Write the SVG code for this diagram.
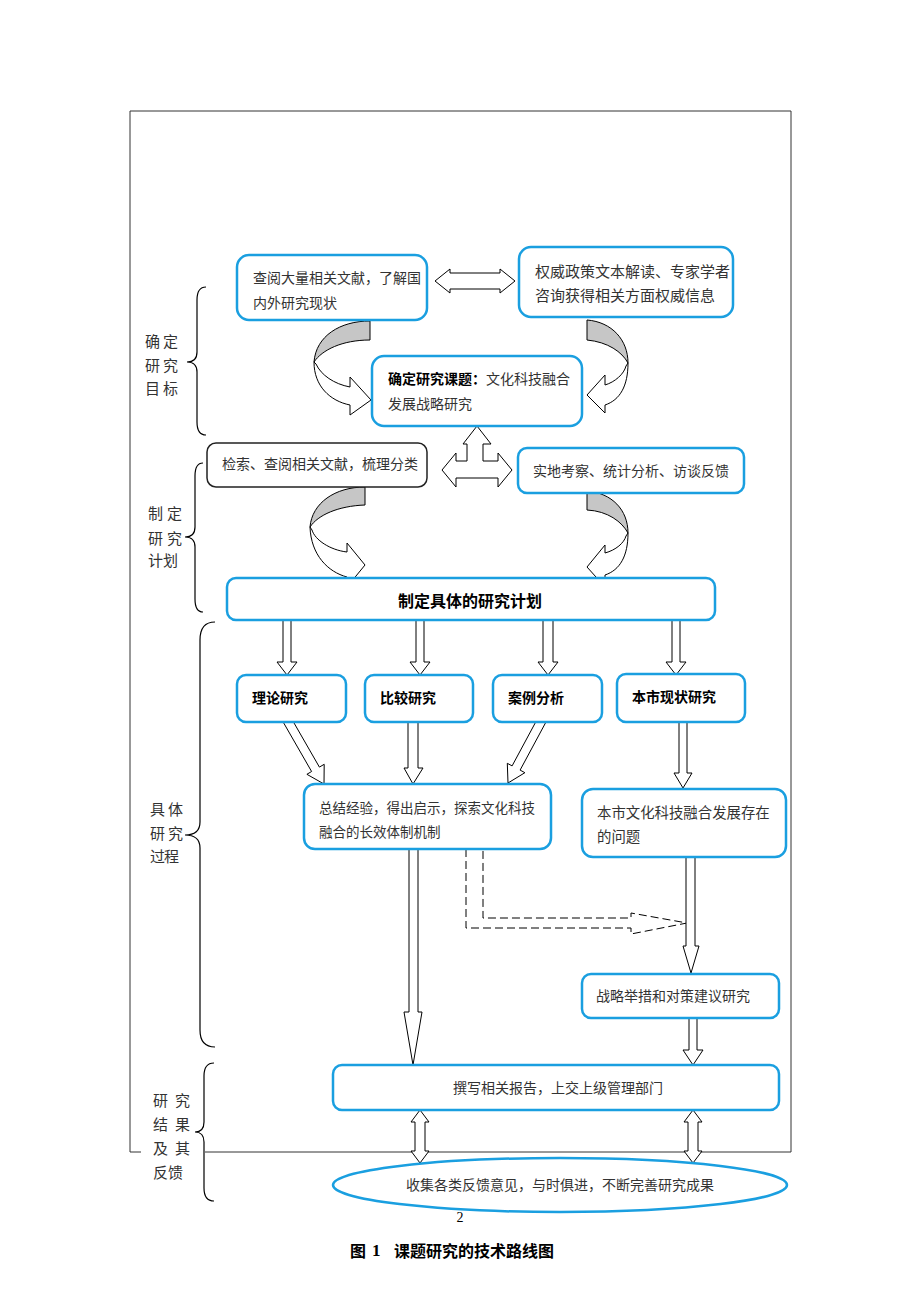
<svg xmlns="http://www.w3.org/2000/svg" width="920" height="1302" viewBox="0 0 920 1302">
<style>
.t{font-family:"Noto Sans CJK SC","Noto Sans",sans-serif;fill:#333;dominant-baseline:central}
.b{font-weight:bold;fill:#000}
.box{fill:#fff;stroke:#1a9fe0;stroke-width:2.5}
.ar{fill:#fff;stroke:#000;stroke-width:1}
.gr{fill:#c6c6c6;stroke:#000;stroke-width:1}
.br{fill:none;stroke:#000;stroke-width:1.2}
.dash{fill:none;stroke:#000;stroke-width:1;stroke-dasharray:8,4}
</style>
<rect width="920" height="1302" fill="#fff"/>
<g id="frame" fill="none" stroke="#333" stroke-width="1">
<path d="M141,1152 L130,1152 L130,111 L791,111 L791,1152 L205,1152"/>
</g>
<g id="brackets">
<path class="br" d="M206,287 Q197,287 197,300 L197,352 Q197,362 187,362 Q197,362 197,372 L197,422 Q197,435 206,435"/>
<path class="br" d="M203,463 Q195,463 195,476 L195,527 Q195,537 185,537 Q195,537 195,547 L195,599 Q195,612 203,612"/>
<path class="br" d="M215,622 Q200,622 200,640 L200,822 Q200,835 185,835 Q200,835 200,848 L200,1030 Q200,1047 215,1047"/>
<path class="br" d="M214,1063 Q204,1063 204,1076 L204,1122 Q204,1132 195,1132 Q204,1132 204,1142 L204,1188 Q204,1201 214,1201"/>
<text class="t" font-size="15" x="145 157 163" y="340">确 定</text>
<text class="t" font-size="15" x="145 157 163" y="364">研 究</text>
<text class="t" font-size="15" x="145 157 163" y="387">目 标</text>
<text class="t" font-size="15" x="148 160 167" y="512">制 定</text>
<text class="t" font-size="15" x="148 160 167" y="537">研 究</text>
<text class="t" font-size="15" x="148 163" y="559">计划</text>
<text class="t" font-size="15" x="150 162 168" y="808">具 体</text>
<text class="t" font-size="15" x="150 162 168" y="832">研 究</text>
<text class="t" font-size="15" x="150 164" y="855">过程</text>
<text class="t" font-size="15" x="153 165 175" y="1099">研 究</text>
<text class="t" font-size="15" x="153 165 175" y="1123">结 果</text>
<text class="t" font-size="15" x="153 165 175" y="1147">及 其</text>
<text class="t" font-size="15" x="153 168" y="1171">反馈</text>
</g>
<g id="connectors">
<polygon class="ar" points="435,281 450,269 450,273 500,273 500,269 515,281 500,293 500,289 450,289 450,293"/>
<path class="gr" d="M370,321 C340,321 316,336 314,362 C322,350 342,340 370,340 Z"/>
<path class="ar" d="M314,362 C314,386 330,401 350,405 L350,415 L371,400 L350,377 L350,387 C334,384 321,375 316,364 Z"/>
<path class="gr" d="M587,320 C612,322 628,340 628,363 C622,352 608,342 587,340 Z"/>
<path class="ar" d="M628,363 C628,386 620,400 605,405 L605,413 L587,395 L605,375 L605,385 C615,382 624,374 626,366 Z"/>
<polygon class="ar" points="442,470 456,453 456,461 467,461 467,444 463,444 477,426 491,444 483,444 483,461 498,461 498,453 512,470 498,487 498,478 456,478 456,487"/>
<path class="gr" d="M365,487 C335,487 312,503 310,527 C318,515 338,506 365,505 Z"/>
<path class="ar" d="M310,527 C311,555 328,572 347,577 L347,587 L365,565 L347,543 L347,552 C330,550 315,540 312,530 Z"/>
<path class="gr" d="M587,491 C612,493 628,510 628,533 C622,522 608,511 587,510 Z"/>
<path class="ar" d="M628,533 C628,556 620,570 605,575 L605,587 L587,567 L605,545 L605,553 C616,550 624,543 626,536 Z"/>
<polygon class="ar" points="283,620 291,620 291,662 297,662 287,675 277,662 283,662"/>
<polygon class="ar" points="416,620 424,620 424,662 430,662 420,675 410,662 416,662"/>
<polygon class="ar" points="543,620 553,620 553,662 558,662 548,675 538,662 543,662"/>
<polygon class="ar" points="672,620 680,620 680,662 686,662 676,675 666,662 672,662"/>
<polygon class="ar" points="289.9,715.8 319.4,767.1 324.2,764.3 324,784 306.9,774.3 311.6,771.5 282.1,720.2"/>
<polygon class="ar" points="408,720 418,720 418,768 423,768 413,784 404,768 408,768"/>
<polygon class="ar" points="539,715.9 512.1,765.9 507.3,763.3 508,783 524.9,772.7 520.1,770.1 547,720.1"/>
<polygon class="ar" points="679,720 687,720 687,773 692,773 683,788 674,773 679,773"/>
<polygon class="ar" points="409,847 418,847 418,1012 422,1012 413,1065 404,1012 409,1012"/>
<path class="dash" d="M466,849 L466,928 L631,928 L631,934 L687,923 L631,913 L631,918 L483,918 L483,849"/>
<polygon class="ar" points="686,855 695,855 695,946 699,946 691,973 683,946 686,946"/>
<polygon class="ar" points="689,1016 697,1016 697,1050 703,1050 693,1065 683,1050 689,1050"/>
<polygon class="ar" points="420,1110 429,1122 425,1122 425,1151 429,1151 420,1163 411,1151 415,1151 415,1122 411,1122"/>
<polygon class="ar" points="693,1110 702,1122 698,1122 698,1151 702,1151 693,1163 684,1151 688,1151 688,1122 684,1122"/>
</g>
<g id="n1"><rect class="box" x="237" y="255" width="190" height="65" rx="12"/>
<text class="t" font-size="14" x="253" y="277">查阅大量相关文献，了解国</text>
<text class="t" font-size="14" x="253" y="302">内外研究现状</text></g>
<g id="n2"><rect class="box" x="519" y="247" width="214" height="70" rx="12"/>
<text class="t" font-size="15" x="535" y="270">权威政策文本解读、专家学者</text>
<text class="t" font-size="15" x="535" y="294">咨询获得相关方面权威信息</text></g>
<g id="n3"><rect class="box" x="372" y="356" width="210" height="70" rx="12"/>
<text class="t" font-size="14" x="388" y="378"><tspan class="b">确定研究课题：</tspan>文化科技融合</text>
<text class="t" font-size="14" x="388" y="403">发展战略研究</text></g>
<g id="n4"><rect x="207" y="443" width="220" height="44" rx="9" fill="#fff" stroke="#222" stroke-width="1.5"/>
<text class="t" font-size="14" x="222" y="463">检索、查阅相关文献，梳理分类</text></g>
<g id="n5"><rect class="box" x="518" y="448" width="226" height="45" rx="9"/>
<text class="t" font-size="14" x="533" y="470">实地考察、统计分析、访谈反馈</text></g>
<g id="n6"><rect class="box" x="227" y="578" width="488" height="42" rx="9"/>
<text class="t b" font-size="16" x="470" y="600" text-anchor="middle">制定具体的研究计划</text></g>
<g id="n7"><rect class="box" x="237" y="675" width="109" height="47" rx="9"/>
<text class="t b" font-size="14" x="252" y="697">理论研究</text></g>
<g id="n8"><rect class="box" x="365" y="675" width="108" height="47" rx="9"/>
<text class="t b" font-size="14" x="380" y="697">比较研究</text></g>
<g id="n9"><rect class="box" x="493" y="675" width="109" height="47" rx="9"/>
<text class="t b" font-size="14" x="508" y="697">案例分析</text></g>
<g id="n10"><rect class="box" x="617" y="674" width="128" height="48" rx="9"/>
<text class="t b" font-size="14" x="632" y="696">本市现状研究</text></g>
<g id="n11"><rect class="box" x="304" y="784" width="247" height="65" rx="11"/>
<text class="t" font-size="13.5" x="319" y="807">总结经验，得出启示，探索文化科技</text>
<text class="t" font-size="13.5" x="319" y="831">融合的长效体制机制</text></g>
<g id="n12"><rect class="box" x="582" y="789" width="204" height="68" rx="11"/>
<text class="t" font-size="14.4" x="597" y="811">本市文化科技融合发展存在</text>
<text class="t" font-size="14.4" x="597" y="835">的问题</text></g>
<g id="n13"><rect class="box" x="582" y="974" width="197" height="44" rx="9"/>
<text class="t" font-size="14" x="596" y="995">战略举措和对策建议研究</text></g>
<g id="n14"><rect class="box" x="333" y="1065" width="446" height="45" rx="9"/>
<text class="t" font-size="14" x="453" y="1087">撰写相关报告，上交上级管理部门</text></g>
<g id="n15"><ellipse cx="560" cy="1185" rx="227" ry="27" fill="none" stroke="#1a9fe0" stroke-width="2.5"/>
<text class="t" font-size="14" x="560" y="1184" text-anchor="middle">收集各类反馈意见，与时俱进，不断完善研究成果</text></g>
<g id="footer">
<text x="460" y="1222" font-family="Liberation Serif,serif" font-size="14" text-anchor="middle" fill="#000">2</text>
<text class="t b" font-size="16" x="350" y="1250">图</text>
<text x="372" y="1256" font-family="Liberation Serif,serif" font-weight="bold" font-size="17" fill="#000">1</text>
<text class="t b" font-size="16" x="394" y="1250">课题研究的技术路线图</text>
</g>
</svg>
